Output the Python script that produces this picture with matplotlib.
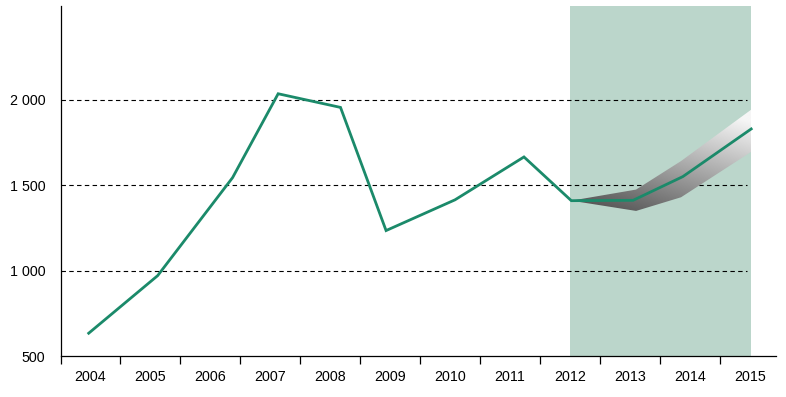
import numpy as np
import matplotlib.pyplot as plt
from matplotlib.patches import Polygon

plt.rcParams['font.family'] = ['Liberation Sans', 'DejaVu Sans']

# line data (x as fractional year, categories span year..year+1)
years = [2004, 2005, 2006, 2007, 2008, 2009, 2010, 2011, 2012, 2013, 2014, 2015]
x_pos = [2004.47, 2005.62, 2006.87, 2007.63, 2008.67, 2009.43,
         2010.58, 2011.73, 2012.52, 2013.55, 2014.38, 2015.52]
values = [634, 971, 1545, 2036, 1956, 1235, 1415, 1666, 1410, 1412, 1551, 1830]

# forecast band
band_x = [2012.52, 2013.6, 2014.35, 2015.52]
band_upper = [1410, 1475, 1642, 1943]
band_lower = [1410, 1350, 1430, 1696]

yticks = [500, 1000, 1500, 2000]
ylabels = ['500', '1 000', '1 500', '2 000']

green = '#1b8a6a'

fig = plt.figure(figsize=(7.86, 3.97), dpi=100)
ax = fig.add_axes([0.077, 0.103, 0.91, 0.882])
ax.set_xlim(2004, 2015.93)
ax.set_ylim(500, 2550)

# shaded forecast period
ax.axvspan(2012.5, 2015.52, color='#bbd6cb', lw=0, zorder=0)

# grid lines
for y in yticks[1:]:
    ax.plot([2004, 2015.45], [y, y], color='black', lw=0.8, ls=(0, (4, 3)), zorder=1)

# gradient band
verts = list(zip(band_x, band_upper)) + list(zip(band_x[::-1], band_lower[::-1]))
poly = Polygon(verts, closed=True, facecolor='none', edgecolor='none')
ax.add_patch(poly)
grad = np.linspace(0, 1, 256).reshape(-1, 1)
xx = np.linspace(0, 1, 256).reshape(1, -1)
img = np.clip(grad * 0.75 + xx * 0.35, 0, 1)
im = ax.imshow(img, extent=[2012.52, 2015.52, 1300, 1960], origin='lower',
               cmap='gray', vmin=-0.35, vmax=1.05, aspect='auto', zorder=2)
im.set_clip_path(poly)

ax.plot(x_pos, values, color=green, lw=2.0, zorder=3, solid_joinstyle='miter')

for s in ['top', 'right']:
    ax.spines[s].set_visible(False)
ax.spines['left'].set_linewidth(0.9)
ax.spines['bottom'].set_linewidth(0.9)

ax.set_xticks(years)
ax.set_xticklabels([])
ax.tick_params(axis='x', which='major', length=6, width=0.9, direction='out')
ax.set_xticks([y + 0.5 for y in years], minor=True)
ax.set_xticklabels([str(y) for y in years], minor=True, fontsize=10.3)
ax.tick_params(axis='x', which='minor', length=0, pad=10)

ax.set_yticks(yticks)
ax.set_yticklabels(ylabels, fontsize=10.3)
ax.tick_params(axis='y', which='major', length=0, pad=11)
ax.set_yticks([500], minor=True)
ax.tick_params(axis='y', which='minor', length=5, width=0.9)

fig.savefig('out.png', dpi=100)
